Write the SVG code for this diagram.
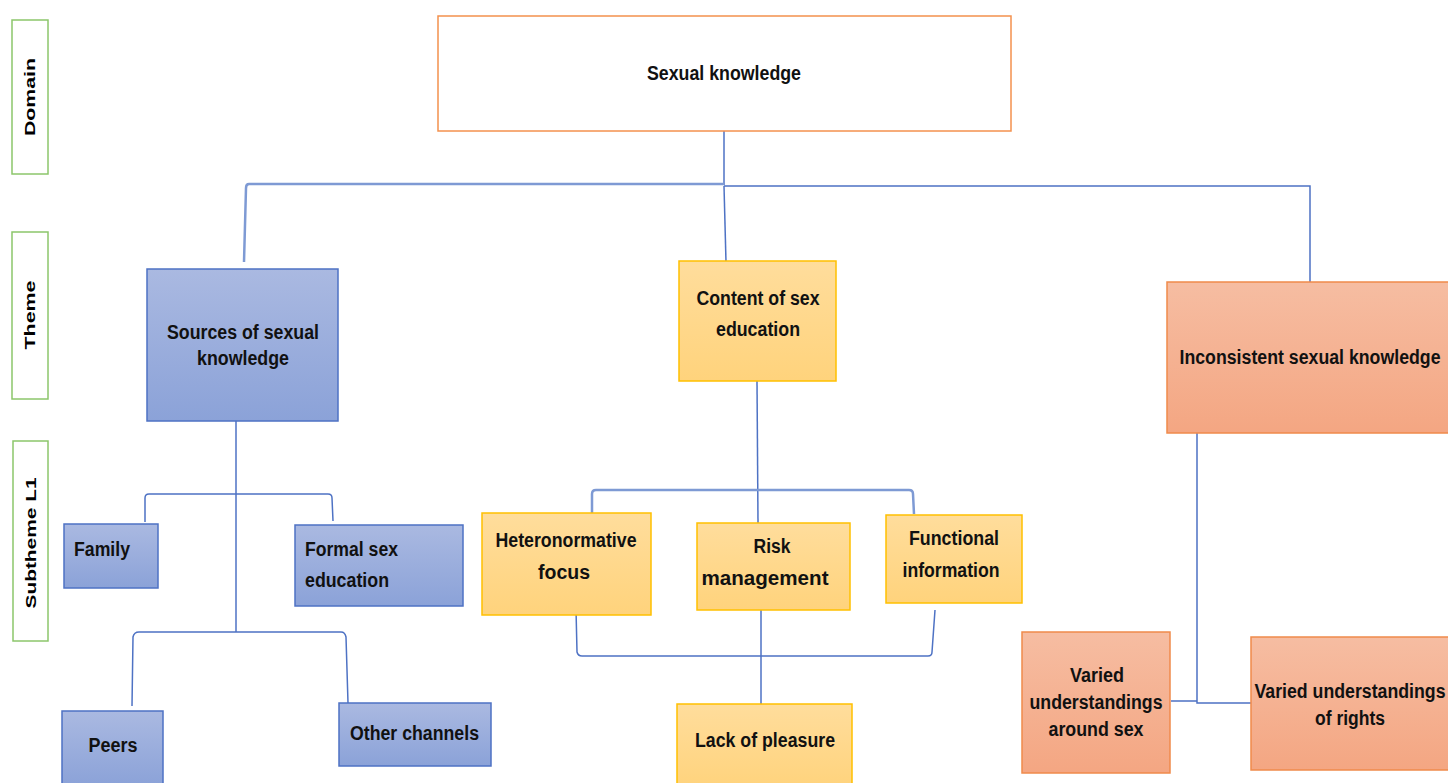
<svg xmlns="http://www.w3.org/2000/svg" width="1448" height="783" viewBox="0 0 1448 783">
<defs>
<linearGradient id="gBlue" x1="0" y1="0" x2="0" y2="1"><stop offset="0" stop-color="#AAB9E1"/><stop offset="1" stop-color="#8BA2D8"/></linearGradient>
<linearGradient id="gYel" x1="0" y1="0" x2="0" y2="1"><stop offset="0" stop-color="#FFDD9C"/><stop offset="1" stop-color="#FFD37C"/></linearGradient>
<linearGradient id="gOr" x1="0" y1="0" x2="0" y2="1"><stop offset="0" stop-color="#F6BDA2"/><stop offset="1" stop-color="#F4A682"/></linearGradient>
<style>
.lbl{fill:#fff;stroke:#8CC66B;stroke-width:1.5}
.lt{font-family:"Liberation Sans",Arial,sans-serif;font-weight:bold;font-size:14px;fill:#000;text-anchor:middle}
.t{font-family:"Liberation Sans",Arial,sans-serif;font-weight:bold;font-size:20px;fill:#111;text-anchor:middle}
.tl{text-anchor:start}
.b{fill:url(#gBlue);stroke:#4E72C4;stroke-width:1.5}
.y{fill:url(#gYel);stroke:#FFC000;stroke-width:1.5}
.o{fill:url(#gOr);stroke:#F08A4B;stroke-width:1.5}
.c{fill:none;stroke:#4E72C4;stroke-width:1.5}
.c2{fill:none;stroke:#7E9AD4;stroke-width:2.5}
</style>
</defs>
<rect width="1448" height="783" fill="#fff"/>
<g id="levels">
<rect class="lbl" x="12" y="20" width="36" height="154"/>
<text class="lt" transform="translate(35,97) rotate(-90)" textLength="78" lengthAdjust="spacingAndGlyphs">Domain</text>
<rect class="lbl" x="12" y="232" width="36" height="167"/>
<text class="lt" transform="translate(35,315) rotate(-90)" textLength="69" lengthAdjust="spacingAndGlyphs">Theme</text>
<rect class="lbl" x="13" y="441" width="35" height="200"/>
<text class="lt" transform="translate(36,543) rotate(-90)" textLength="131" lengthAdjust="spacingAndGlyphs">Subtheme L1</text>
</g>
<g id="connectors">
<path class="c" d="M724,131 V185"/>
<path class="c2" d="M724,184 H249 Q246,184 246,188 L244,262"/>
<path class="c" d="M724,186 H1310 V282"/>
<path class="c" d="M724,186 L726,262"/>
<path class="c" d="M236,409 V632"/>
<path class="c" d="M145,522 V498 Q145,494 149,494 H328 Q332,494 332,498 L333,521"/>
<path class="c" d="M132,706 L133,637 Q134,632 139,632 H341 Q345,632 346,637 L348,703"/>
<path class="c" d="M757,381 L758,523"/>
<path class="c2" d="M592,513 V494 Q592,490 596,490 H909 Q913,490 913,494 L914,514"/>
<path class="c" d="M576,609 L577,652 Q578,656 582,656 H928 Q932,656 932,652 L935,610"/>
<path class="c" d="M761,610 V704"/>
<path class="c" d="M1197,433 V703 H1251 M1171,701 H1197"/>
</g>
<g id="n-domain">
<rect x="438" y="16" width="573" height="115" fill="#fff" stroke="#F4914E" stroke-width="1.5"/>
<text class="t" x="724" y="80" textLength="154" lengthAdjust="spacingAndGlyphs">Sexual knowledge</text>
</g>
<g id="n-sources">
<rect class="b" x="147" y="269" width="191" height="152"/>
<text class="t" x="243" y="339" textLength="152" lengthAdjust="spacingAndGlyphs">Sources of sexual</text>
<text class="t" x="243" y="365" textLength="92" lengthAdjust="spacingAndGlyphs">knowledge</text>
</g>
<g id="n-content">
<rect class="y" x="679" y="261" width="157" height="120"/>
<text class="t" x="758" y="305" textLength="123" lengthAdjust="spacingAndGlyphs">Content of sex</text>
<text class="t" x="758" y="336" textLength="84" lengthAdjust="spacingAndGlyphs">education</text>
</g>
<g id="n-inconsistent">
<rect class="o" x="1167" y="282" width="290" height="151"/>
<text class="t" x="1310" y="364" textLength="261" lengthAdjust="spacingAndGlyphs">Inconsistent sexual knowledge</text>
</g>
<g id="n-family">
<rect class="b" x="64" y="524" width="94" height="64"/>
<text class="t tl" x="74" y="556" textLength="56" lengthAdjust="spacingAndGlyphs">Family</text>
</g>
<g id="n-formal">
<rect class="b" x="295" y="525" width="168" height="81"/>
<text class="t tl" x="305" y="556" textLength="93" lengthAdjust="spacingAndGlyphs">Formal sex</text>
<text class="t tl" x="305" y="587" textLength="84" lengthAdjust="spacingAndGlyphs">education</text>
</g>
<g id="n-peers">
<rect class="b" x="62" y="711" width="101" height="75"/>
<text class="t" x="113" y="752" textLength="49" lengthAdjust="spacingAndGlyphs">Peers</text>
</g>
<g id="n-other">
<rect class="b" x="339" y="703" width="152" height="63"/>
<text class="t tl" x="350" y="740" textLength="129" lengthAdjust="spacingAndGlyphs">Other channels</text>
</g>
<g id="n-hetero">
<rect class="y" x="482" y="513" width="169" height="102"/>
<text class="t" x="566" y="547" textLength="141" lengthAdjust="spacingAndGlyphs">Heteronormative</text>
<text class="t" x="564" y="579" textLength="52" lengthAdjust="spacingAndGlyphs">focus</text>
</g>
<g id="n-risk">
<rect class="y" x="697" y="523" width="153" height="87"/>
<text class="t" x="772" y="553" textLength="37" lengthAdjust="spacingAndGlyphs">Risk</text>
<text class="t" x="765" y="585" textLength="127" lengthAdjust="spacingAndGlyphs">management</text>
</g>
<g id="n-functional">
<rect class="y" x="886" y="515" width="136" height="88"/>
<text class="t" x="954" y="545" textLength="90" lengthAdjust="spacingAndGlyphs">Functional</text>
<text class="t" x="951" y="577" textLength="97" lengthAdjust="spacingAndGlyphs">information</text>
</g>
<g id="n-lack">
<rect class="y" x="677" y="704" width="175" height="85"/>
<text class="t" x="765" y="747" textLength="140" lengthAdjust="spacingAndGlyphs">Lack of pleasure</text>
</g>
<g id="n-varied-sex">
<rect class="o" x="1022" y="632" width="148" height="141"/>
<text class="t" x="1097" y="682" textLength="54" lengthAdjust="spacingAndGlyphs">Varied</text>
<text class="t" x="1096" y="709" textLength="133" lengthAdjust="spacingAndGlyphs">understandings</text>
<text class="t" x="1096" y="736" textLength="95" lengthAdjust="spacingAndGlyphs">around sex</text>
</g>
<g id="n-varied-rights">
<rect class="o" x="1251" y="637" width="205" height="133"/>
<text class="t" x="1350" y="698" textLength="191" lengthAdjust="spacingAndGlyphs">Varied understandings</text>
<text class="t" x="1350" y="725" textLength="70" lengthAdjust="spacingAndGlyphs">of rights</text>
</g>
</svg>
